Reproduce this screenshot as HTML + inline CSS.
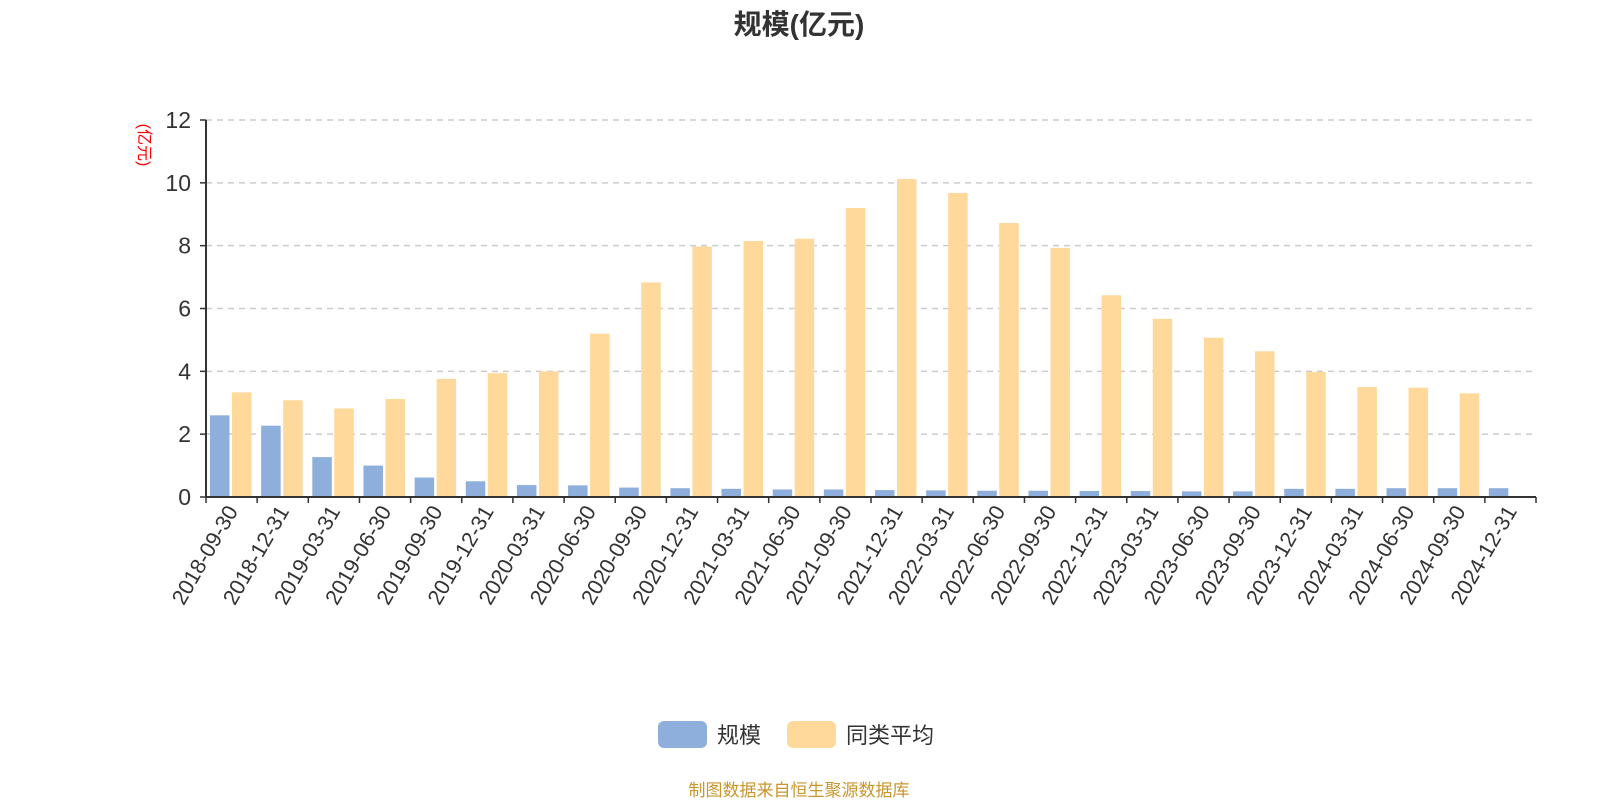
<!DOCTYPE html>
<html><head><meta charset="utf-8"><style>
body{margin:0;background:#fff;width:1600px;height:800px;overflow:hidden}
svg text{font-family:"Liberation Sans","Noto Sans CJK SC",sans-serif}
</style></head><body>
<svg id="c" width="1600" height="800" xmlns="http://www.w3.org/2000/svg">
<text x="799" y="34" text-anchor="middle" font-size="28" font-weight="bold" fill="#333">规模(亿元)</text>
<text transform="translate(139,145) rotate(90)" text-anchor="middle" font-size="16" fill="#f00">(亿元)</text>
<g id="grid"></g><g id="bars"></g><g id="axes"></g>
<g>
<rect x="658" y="721" width="49" height="27" rx="6" fill="#8eaedb"/>
<text x="717" y="743" font-size="22" fill="#333">规模</text>
<rect x="787" y="721" width="49" height="27" rx="6" fill="#ffd99b"/>
<text x="846" y="743" font-size="22" fill="#333">同类平均</text>
</g>
<text x="799" y="796" text-anchor="middle" font-size="17" fill="#c8962e">制图数据来自恒生聚源数据库</text>
</svg>
<script>
const categories=["2018-09-30","2018-12-31","2019-03-31","2019-06-30","2019-09-30","2019-12-31","2020-03-31","2020-06-30","2020-09-30","2020-12-31","2021-03-31","2021-06-30","2021-09-30","2021-12-31","2022-03-31","2022-06-30","2022-09-30","2022-12-31","2023-03-31","2023-06-30","2023-09-30","2023-12-31","2024-03-31","2024-06-30","2024-09-30","2024-12-31"];
const scaleValues=[2.6,2.27,1.27,1.0,0.62,0.5,0.38,0.37,0.3,0.28,0.26,0.24,0.24,0.22,0.21,0.2,0.2,0.19,0.19,0.18,0.18,0.26,0.26,0.28,0.28,0.28];
const peerAvgValues=[3.33,3.08,2.82,3.12,3.76,3.94,4.0,5.2,6.83,7.97,8.15,8.22,9.2,10.12,9.68,8.72,7.93,6.42,5.67,5.07,4.64,3.98,3.5,3.48,3.3,null];
const yTicks=[0,2,4,6,8,10,12];
const NS="http://www.w3.org/2000/svg";
const X0=206,X1=1536,Y0=497,Y12=120,YMAX=12;
const bw=(X1-X0)/categories.length;
const y=v=>Y0-(v/YMAX)*(Y0-Y12);
const x=i=>X0+i*bw;
function mk(t,a,p){const e=document.createElementNS(NS,t);for(const k in a)e.setAttribute(k,a[k]);p.appendChild(e);return e;}
const grid=document.getElementById('grid'),bars=document.getElementById('bars'),axes=document.getElementById('axes');
yTicks.forEach(t=>{
 if(t>0){const g=mk('line',{x1:X0,x2:X1,y1:y(t),y2:y(t),stroke:'#ccc','stroke-width':1.5,'stroke-dasharray':'6,5'},grid);
 
 }
 const tk=mk('line',{x1:X0-6,x2:X0,y1:y(t),y2:y(t),stroke:'#333','stroke-width':1.5},axes);
 
 
 const lb=mk('text',{x:X0-15,y:y(t)+8,'text-anchor':'end','font-size':23,fill:'#333'},axes);
 lb.textContent=t;
 
 
});
const BW=19.5;
categories.forEach((c,i)=>{
 const v1=scaleValues[i];
 if(v1!=null){const r=mk('rect',{x:x(i)+4,y:y(v1),width:BW,height:Y0-y(v1),fill:'#8eaedb'},bars);
 
 }
 const v2=peerAvgValues[i];
 if(v2!=null){const r=mk('rect',{x:x(i)+26,y:y(v2),width:BW,height:Y0-y(v2),fill:'#ffd99b'},bars);
 
 }
 const tk=mk('line',{x1:x(i),x2:x(i),y1:Y0,y2:Y0+6,stroke:'#333','stroke-width':1.5},axes);
 
 
 const cx=x(i)+bw/2;
 const lb=mk('text',{transform:`translate(${cx+7},${Y0+14}) rotate(-60)`,'text-anchor':'end','font-size':21.5,fill:'#333'},axes);
 lb.textContent=c;
 
 
});
const tkEnd=mk('line',{x1:X1,x2:X1,y1:Y0,y2:Y0+6,stroke:'#333','stroke-width':1.5},axes);


const xa=mk('line',{x1:X0,x2:X1,y1:Y0,y2:Y0,stroke:'#333','stroke-width':2},axes);


const ya=mk('line',{x1:X0,x2:X0,y1:Y12,y2:Y0,stroke:'#333','stroke-width':2},axes);


</script>
</body></html>
